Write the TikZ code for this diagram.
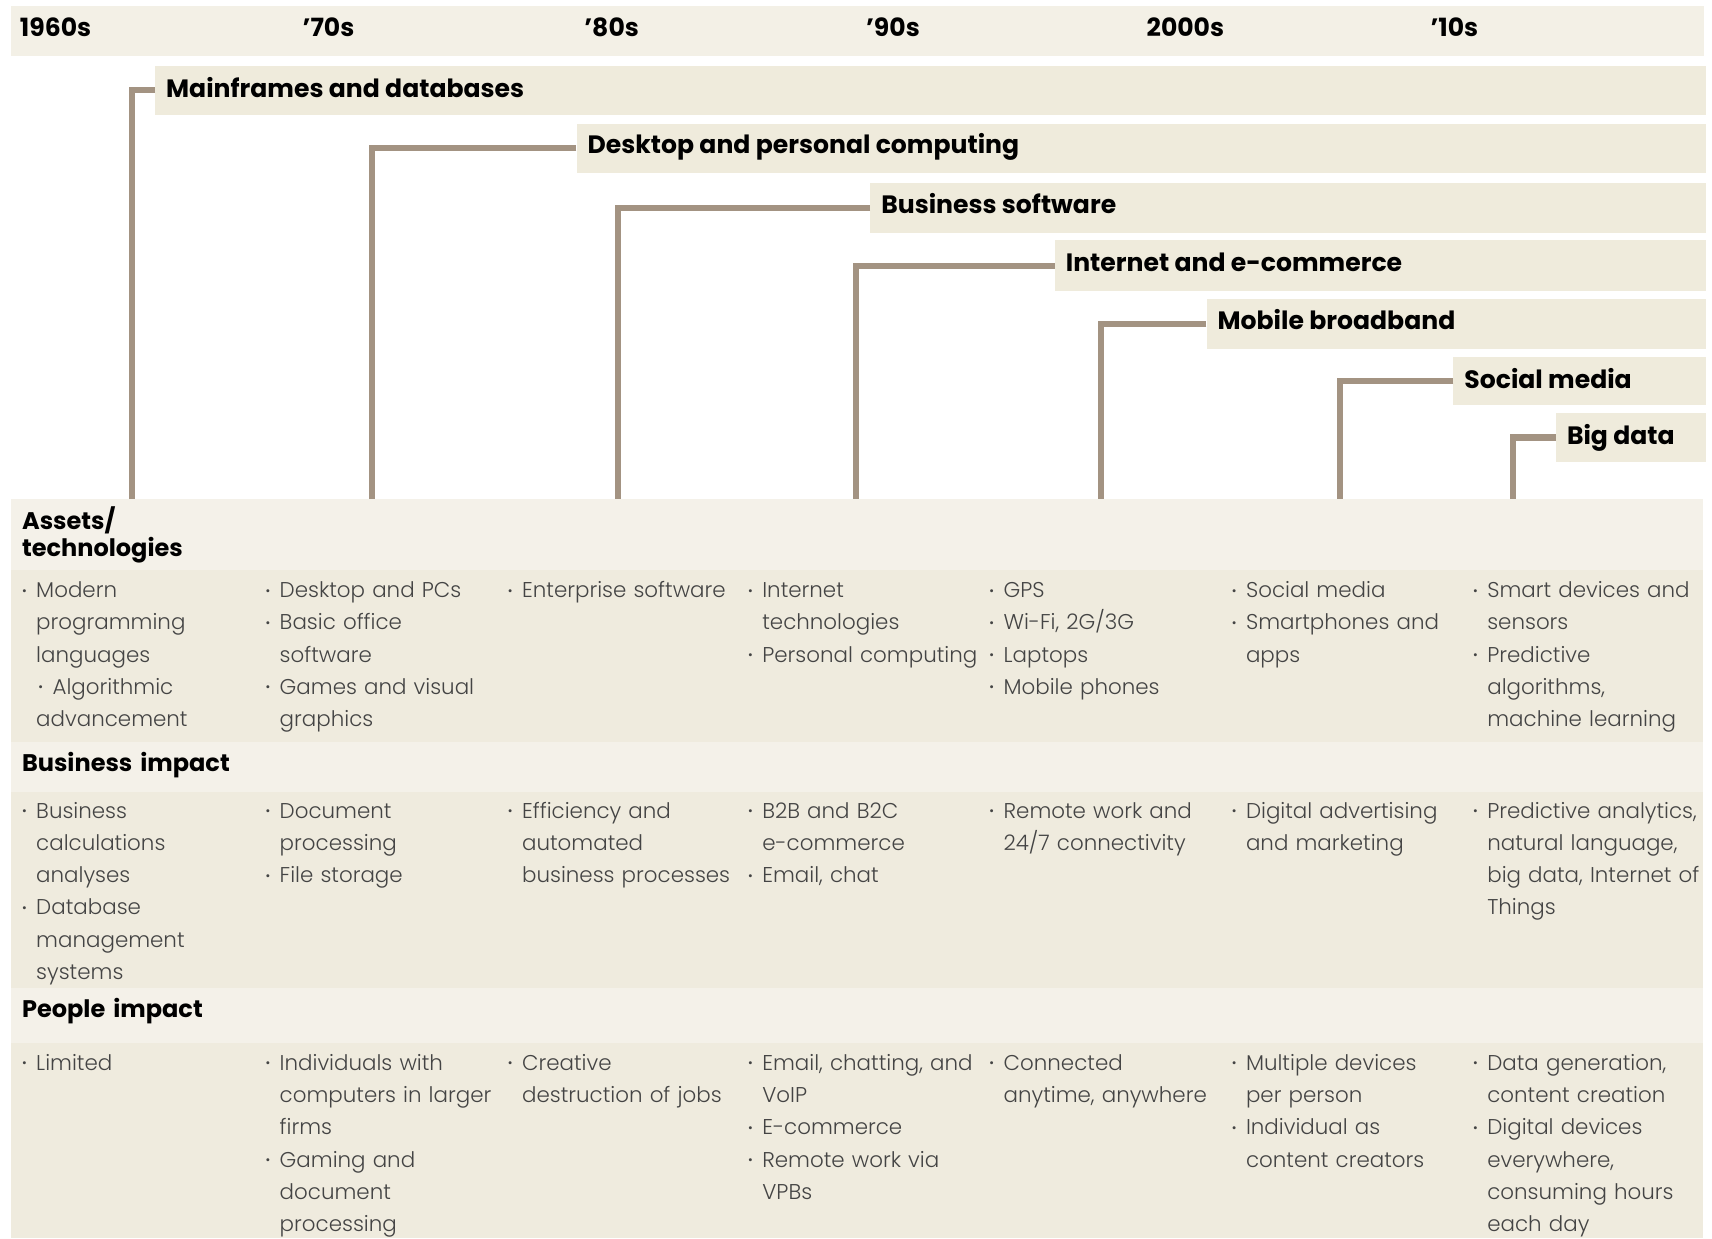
\documentclass[tikz,border=0pt]{standalone}
\usepackage{fontspec}
\usepackage{graphicx}
\setmainfont{Poppins}
\newfontfamily\bodyfont{Poppins Light}
\definecolor{hdr}{HTML}{F3F0E6}
\definecolor{era}{HTML}{EFEBDC}
\definecolor{connc}{HTML}{A39382}
\definecolor{bandA}{HTML}{F4F1E9}
\definecolor{bandB}{HTML}{EFEBDE}
\definecolor{txt}{HTML}{444444}
\newcommand{\bulx}{\makebox[13pt][l]{\raisebox{0.12em}{\scalebox{0.6}{\textbullet}}}}
\newcommand{\indx}{\hspace*{13pt}}
\tikzset{
  erabox/.style={fill=era, draw=none, inner sep=0pt, anchor=north west},
  boldtxt/.style={font=\bfseries\fontsize{23}{24.5}\selectfont, text=black, inner sep=0pt, anchor=base west},
  sechd/.style={boldtxt, font=\bfseries\fontsize{22}{24.5}\selectfont, text width=300pt, align=left},
  conn/.style={draw=connc, line width=5.5pt},
  cell/.style={font=\bodyfont\fontsize{19.6}{29.5}\selectfont, text=txt, inner sep=0pt, anchor=base west, text width=300pt, align=left},
}
\begin{document}
\begin{tikzpicture}[x=1pt,y=-1pt]
\useasboundingbox (0,0) rectangle (1568,1134);
\fill[white] (0,0) rectangle (1568,1134);
% header bar
\node[erabox, fill=hdr, minimum width=1550pt, minimum height=46pt] (hdrbar) at (10,5) {};
\node[boldtxt] (y60) at (18,33) {1960s};
\node[boldtxt] (y70) at (277,33) {’70s};
\node[boldtxt] (y80) at (535,33) {’80s};
\node[boldtxt] (y90) at (793,33) {’90s};
\node[boldtxt] (y00) at (1050,33) {2000s};
\node[boldtxt] (y10) at (1310,33) {’10s};
% era boxes
\node[erabox, minimum width=1420pt, minimum height=45pt] (e1) at (142,60) {};
\node[erabox, minimum width=1034pt, minimum height=45pt] (e2) at (528,113) {};
\node[erabox, minimum width=765pt, minimum height=46pt] (e3) at (797,167) {};
\node[erabox, minimum width=596pt, minimum height=46pt] (e4) at (966,220) {};
\node[erabox, minimum width=457pt, minimum height=45pt] (e5) at (1105,274) {};
\node[erabox, minimum width=231pt, minimum height=44pt] (e6) at (1331,327) {};
\node[erabox, minimum width=137pt, minimum height=45pt] (e7) at (1425,378) {};
\node[boldtxt] (t1) at (152,89) {Mainframes and databases};
\node[boldtxt] (t2) at (538,141) {Desktop and personal computing};
\node[boldtxt] (t3) at (807,196) {Business software};
\node[boldtxt] (t4) at (976,249) {Internet and e-commerce};
\node[boldtxt] (t5) at (1115,302) {Mobile broadband};
\node[boldtxt] (t6) at (1341,356) {Social media};
\node[boldtxt] (t7) at (1435,407) {Big data};
% connectors
\coordinate (b1) at (121,460);
\coordinate (b2) at (341,460);
\coordinate (b3) at (566,460);
\coordinate (b4) at (784,460);
\coordinate (b5) at (1008,460);
\coordinate (b6) at (1227,460);
\coordinate (b7) at (1386,460);
\draw[conn] (e1.west) -| (b1);
\draw[conn] (e2.west) -| (b2);
\draw[conn] (e3.west) -| (b3);
\draw[conn] (e4.west) -| (b4);
\draw[conn] (e5.west) -| (b5);
\draw[conn] (e6.west) -| (b6);
\draw[conn] (e7.west) -| (b7);
% bottom bands
\fill[bandA] (10,457) rectangle (1560,522);
\fill[bandB] (10,522) rectangle (1560,680);
\fill[bandA] (10,680) rectangle (1560,725);
\fill[bandB] (10,725) rectangle (1560,905);
\fill[bandA] (10,905) rectangle (1560,955);
\fill[bandB] (10,955) rectangle (1560,1134);
% section headers
\node[sechd] (hA) at (20,485) {Assets/\\technologies};
\node[sechd] (hB) at (20,707) {Business impact};
\node[sechd] (hP) at (20,932) {People impact};
% assets
\node[cell] (a1) at (20,547.5) {\bulx Modern\\\indx programming\\\indx languages\\\hspace*{15pt}\bulx Algorithmic\\\indx advancement};
\node[cell] (a2) at (243,547.5) {\bulx Desktop and PCs\\\bulx Basic office\\\indx software\\\bulx Games and visual\\\indx graphics};
\node[cell] (a3) at (465,547.5) {\bulx Enterprise software};
\node[cell] (a4) at (685,547.5) {\bulx Internet\\\indx technologies\\\bulx Personal computing};
\node[cell] (a5) at (906,547.5) {\bulx GPS\\\bulx Wi-Fi, 2G/3G\\\bulx Laptops\\\bulx Mobile phones};
\node[cell] (a6) at (1128,547.5) {\bulx Social media\\\bulx Smartphones and\\\indx apps};
\node[cell] (a7) at (1349,547.5) {\bulx Smart devices and\\\indx sensors\\\bulx Predictive\\\indx algorithms,\\\indx machine learning};
% business
\node[cell] (c1) at (20,749.5) {\bulx Business\\\indx calculations\\\indx analyses\\\bulx Database\\\indx management\\\indx systems};
\node[cell] (c2) at (243,749.5) {\bulx Document\\\indx processing\\\bulx File storage};
\node[cell] (c3) at (465,749.5) {\bulx Efficiency and\\\indx automated\\\indx business processes};
\node[cell] (c4) at (685,749.5) {\bulx B2B and B2C\\\indx e-commerce\\\bulx Email, chat};
\node[cell] (c5) at (906,749.5) {\bulx Remote work and\\\indx 24/7 connectivity};
\node[cell] (c6) at (1128,749.5) {\bulx Digital advertising\\\indx and marketing};
\node[cell] (c7) at (1349,749.5) {\bulx Predictive analytics,\\\indx natural language,\\\indx big data, Internet of\\\indx Things};
% people
\node[cell] (p1) at (20,980.5) {\bulx Limited};
\node[cell] (p2) at (243,980.5) {\bulx Individuals with\\\indx computers in larger\\\indx firms\\\bulx Gaming and\\\indx document\\\indx processing};
\node[cell] (p3) at (465,980.5) {\bulx Creative\\\indx destruction of jobs};
\node[cell] (p4) at (685,980.5) {\bulx Email, chatting, and\\\indx VoIP\\\bulx E-commerce\\\bulx Remote work via\\\indx VPBs};
\node[cell] (p5) at (906,980.5) {\bulx Connected\\\indx anytime, anywhere};
\node[cell] (p6) at (1128,980.5) {\bulx Multiple devices\\\indx per person\\\bulx Individual as\\\indx content creators};
\node[cell] (p7) at (1349,980.5) {\bulx Data generation,\\\indx content creation\\\bulx Digital devices\\\indx everywhere,\\\indx consuming hours\\\indx each day};
\end{tikzpicture}
\end{document}
